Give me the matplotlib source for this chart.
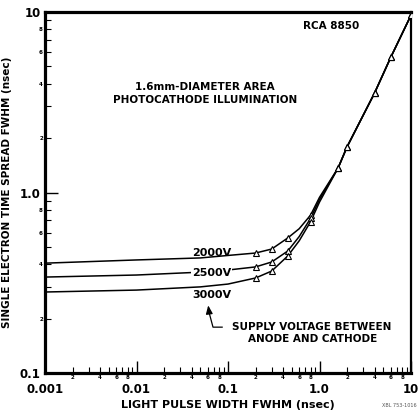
import matplotlib
matplotlib.use("Agg")
import matplotlib.pyplot as plt
from matplotlib.ticker import FixedLocator, FixedFormatter, NullFormatter

plt.rcParams['font.family'] = ['DejaVu Sans']
plt.rcParams['font.weight'] = 'bold'

# ---- data ----
pulse_width = [0.001, 0.01, 0.05, 0.1, 0.2, 0.3, 0.45, 0.6, 0.8, 1.0, 1.6, 2.0, 4.0, 6.0, 10.0]
spread_2000 = [0.406, 0.423, 0.434, 0.448, 0.462, 0.486, 0.56, 0.63, 0.75, 0.94, 1.37, 1.79, 3.56, 5.6, 9.6]
spread_2500 = [0.340, 0.349, 0.362, 0.372, 0.387, 0.412, 0.474, 0.57, 0.72, 0.915, 1.37, 1.79, 3.56, 5.6, 9.6]
spread_3000 = [0.281, 0.288, 0.300, 0.311, 0.336, 0.367, 0.445, 0.54, 0.69, 0.885, 1.37, 1.79, 3.56, 5.6, 9.6]
marker_idx = [4, 5, 6, 8, 10, 11, 12, 13, 14]

x_major = [0.001, 0.01, 0.1, 1.0, 10.0]
x_major_labels = ['0.001', '0.01', '0.1', '1.0', '10']
y_major = [0.1, 1.0, 10.0]
y_major_labels = ['0.1', '1.0', '10']
minor_subs = [2, 3, 4, 5, 6, 7, 8, 9]
minor_labelled = [2, 4, 6, 8]

fig = plt.figure(figsize=(4.18, 4.13), dpi=100)
ax = fig.add_axes([45/418, 40/413, 366/418, 361/413])

for ys in (spread_2000, spread_2500, spread_3000):
    ax.plot(pulse_width, ys, color='black', lw=1.1, zorder=2)
    ax.plot([pulse_width[i] for i in marker_idx], [ys[i] for i in marker_idx],
            ls='none', marker='^', ms=4.5, mfc='white', mec='black', mew=0.8, zorder=3)

ax.set_xscale('log')
ax.set_yscale('log')
ax.set_xlim(0.001, 10)
ax.set_ylim(0.1, 10)

def minor_positions(lo_exp, hi_exp):
    pos, lab = [], []
    for e in range(lo_exp, hi_exp):
        for s in minor_subs:
            pos.append(s * 10.0**e)
            lab.append(str(s) if s in minor_labelled else '')
    return pos, lab

xm, xl = minor_positions(-3, 1)
ym, yl = minor_positions(-1, 1)

ax.xaxis.set_major_locator(FixedLocator(x_major))
ax.xaxis.set_major_formatter(FixedFormatter(x_major_labels))
ax.xaxis.set_minor_locator(FixedLocator(xm))
ax.xaxis.set_minor_formatter(FixedFormatter(xl))
ax.yaxis.set_major_locator(FixedLocator(y_major))
ax.yaxis.set_major_formatter(FixedFormatter(y_major_labels))
ax.yaxis.set_minor_locator(FixedLocator(ym))
ax.yaxis.set_minor_formatter(FixedFormatter(yl))

ax.tick_params(which='major', direction='in', length=9, width=1.0, labelsize=8.5, pad=7)
ax.tick_params(which='minor', direction='in', length=4.5, width=0.8, labelsize=4, pad=1.2)
ax.tick_params(axis='y', which='major', pad=3)
ax.tick_params(axis='y', which='minor', pad=1.5)
for lab in ax.get_xticklabels() + ax.get_yticklabels():
    lab.set_fontweight('bold')

for side, lw in (('left', 2.3), ('bottom', 2.3), ('top', 2.3), ('right', 1.6)):
    ax.spines[side].set_linewidth(lw)

ax.set_xlabel('LIGHT PULSE WIDTH FWHM (nsec)', fontsize=8, fontweight='bold', labelpad=3)
ax.set_ylabel('SINGLE ELECTRON TIME SPREAD FWHM (nsec)', fontsize=7.5, fontweight='bold', labelpad=6)

tr = ax.transAxes
ax.text(0.781, 0.961, 'RCA 8850', transform=tr, ha='center', va='center', fontsize=7.5, fontweight='bold')
ax.text(0.437, 0.792, '1.6mm-DIAMETER AREA', transform=tr, ha='center', va='center', fontsize=7.5, fontweight='bold')
ax.text(0.437, 0.756, 'PHOTOCATHODE ILLUMINATION', transform=tr, ha='center', va='center', fontsize=7.5, fontweight='bold')
ax.text(0.456, 0.332, '2000V', transform=tr, ha='center', va='center', fontsize=8, fontweight='bold', zorder=4)
ax.text(0.456, 0.277, '2500V', transform=tr, ha='center', va='center', fontsize=8, fontweight='bold', zorder=4,
        bbox=dict(facecolor='white', edgecolor='none', pad=0.6))
ax.text(0.456, 0.216, '3000V', transform=tr, ha='center', va='center', fontsize=8, fontweight='bold', zorder=4)
ax.text(0.730, 0.127, 'SUPPLY VOLTAGE BETWEEN', transform=tr, ha='center', va='center', fontsize=7.5, fontweight='bold')
ax.text(0.730, 0.093, 'ANODE AND CATHODE', transform=tr, ha='center', va='center', fontsize=7.5, fontweight='bold')

ax.plot([0.484, 0.459, 0.449], [0.127, 0.127, 0.165], transform=tr, color='black', lw=0.9, clip_on=False)
ax.annotate('', xy=(0.445, 0.195), xytext=(0.449, 0.163), xycoords=tr, textcoords=tr,
            arrowprops=dict(arrowstyle='-|>,head_length=0.5,head_width=0.2', color='black', lw=0.9))

fig.text(0.955, 0.017, 'XBL 753-1016', ha='center', va='center', fontsize=3.5, color='#555555', fontweight='normal')

fig.savefig('out.png', dpi=100)
